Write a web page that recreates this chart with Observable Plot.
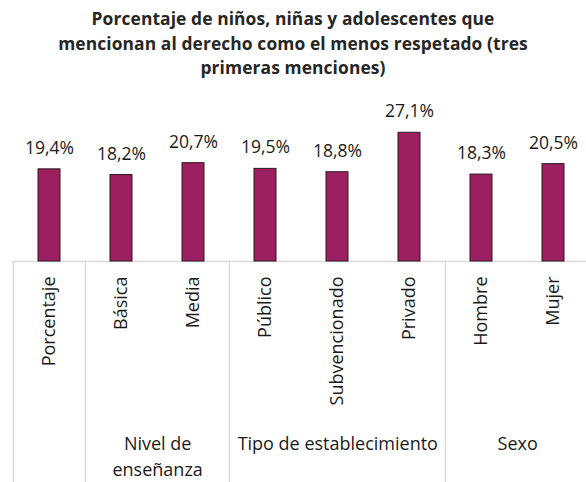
<!DOCTYPE html>
<html>
<head>
<meta charset="utf-8">
<script src="https://cdn.jsdelivr.net/npm/d3@7"></script>
<script src="https://cdn.jsdelivr.net/npm/@observablehq/plot@0.6"></script>
<style>
  html, body { margin: 0; padding: 0; background: #fff; overflow: hidden; }
  #title { width: 586px; height: 90px; box-sizing: border-box; padding-top: 6px;
    font-family: "Open Sans", sans-serif; font-weight: 700; font-size: 17.4px;
    line-height: 24.5px; text-align: center; color: #262626; letter-spacing: 0.1px; }
  #chart svg { overflow: hidden; }
</style>
</head>
<body>
<div id="title">Porcentaje de niños, niñas y adolescentes que<br>mencionan al derecho como el menos respetado (tres<br>primeras menciones)</div>
<div id="chart"></div>
<script>
const categories = ["Porcentaje", "Básica", "Media", "Público", "Subvencionado", "Privado", "Hombre", "Mujer"];
const values = [19.4, 18.2, 20.7, 19.5, 18.8, 27.1, 18.3, 20.5];
const valueLabels = ["19,4%", "18,2%", "20,7%", "19,5%", "18,8%", "27,1%", "18,3%", "20,5%"];
const groupNames = ["", "Nivel de\nenseñanza", "Tipo de establecimiento", "Sexo"];
const groupMembers = [["Porcentaje"], ["Básica", "Media"], ["Público", "Subvencionado", "Privado"], ["Hombre", "Mujer"]];

const data = categories.map((c, i) => ({category: c, value: values[i], label: valueLabels[i]}));

const W = 586, H = 392;
const x0 = 11.7, x1 = 590;
const step = (x1 - x0) / categories.length;
const yBase = 171;

const groupMarks = [];
groupNames.forEach((name, gi) => {
  const members = groupMembers[gi];
  groupMarks.push(Plot.ruleX([members[0]], {
    x: d => d, y1: 0, y2: -60, dx: -step / 2, stroke: "#d9d9d9", strokeWidth: 1.3
  }));
  if (name) {
    groupMarks.push(Plot.text([name], {
      x: () => members[0], y: () => 0, text: d => d,
      dx: (members.length - 1) * step / 2, dy: 170,
      lineAnchor: "top", lineHeight: 1.45,
      fontSize: 18, fill: "#1a1a1a"
    }));
  }
});

const chart = Plot.plot({
  width: W,
  height: H,
  marginLeft: x0,
  marginRight: 0,
  marginTop: yBase - 30 * 4.75,
  marginBottom: H - yBase,
  style: {fontFamily: "Open Sans, sans-serif", background: "#fff"},
  x: {type: "band", domain: categories, range: [x0, x1], paddingInner: 0.69, paddingOuter: 0.345, axis: null},
  y: {domain: [0, 30], axis: null},
  marks: [
    ...groupMarks,
    Plot.ruleY([0], {stroke: "#d9d9d9", strokeWidth: 1.6}),
    Plot.barY(data, {x: "category", y: "value", fill: "#9c1f60", stroke: "#2b1a22", strokeWidth: 1}),
    Plot.text(data, {x: "category", y: "value", text: "label", dy: -21, fontSize: 17.5, fill: "#1a1a1a"}),
    Plot.text(data, {x: "category", y: () => 0, text: "category", rotate: -90, textAnchor: "end", dy: 15, fontSize: 18, fill: "#1a1a1a"})
  ]
});
document.getElementById("chart").appendChild(chart);
</script>
</body>
</html>
